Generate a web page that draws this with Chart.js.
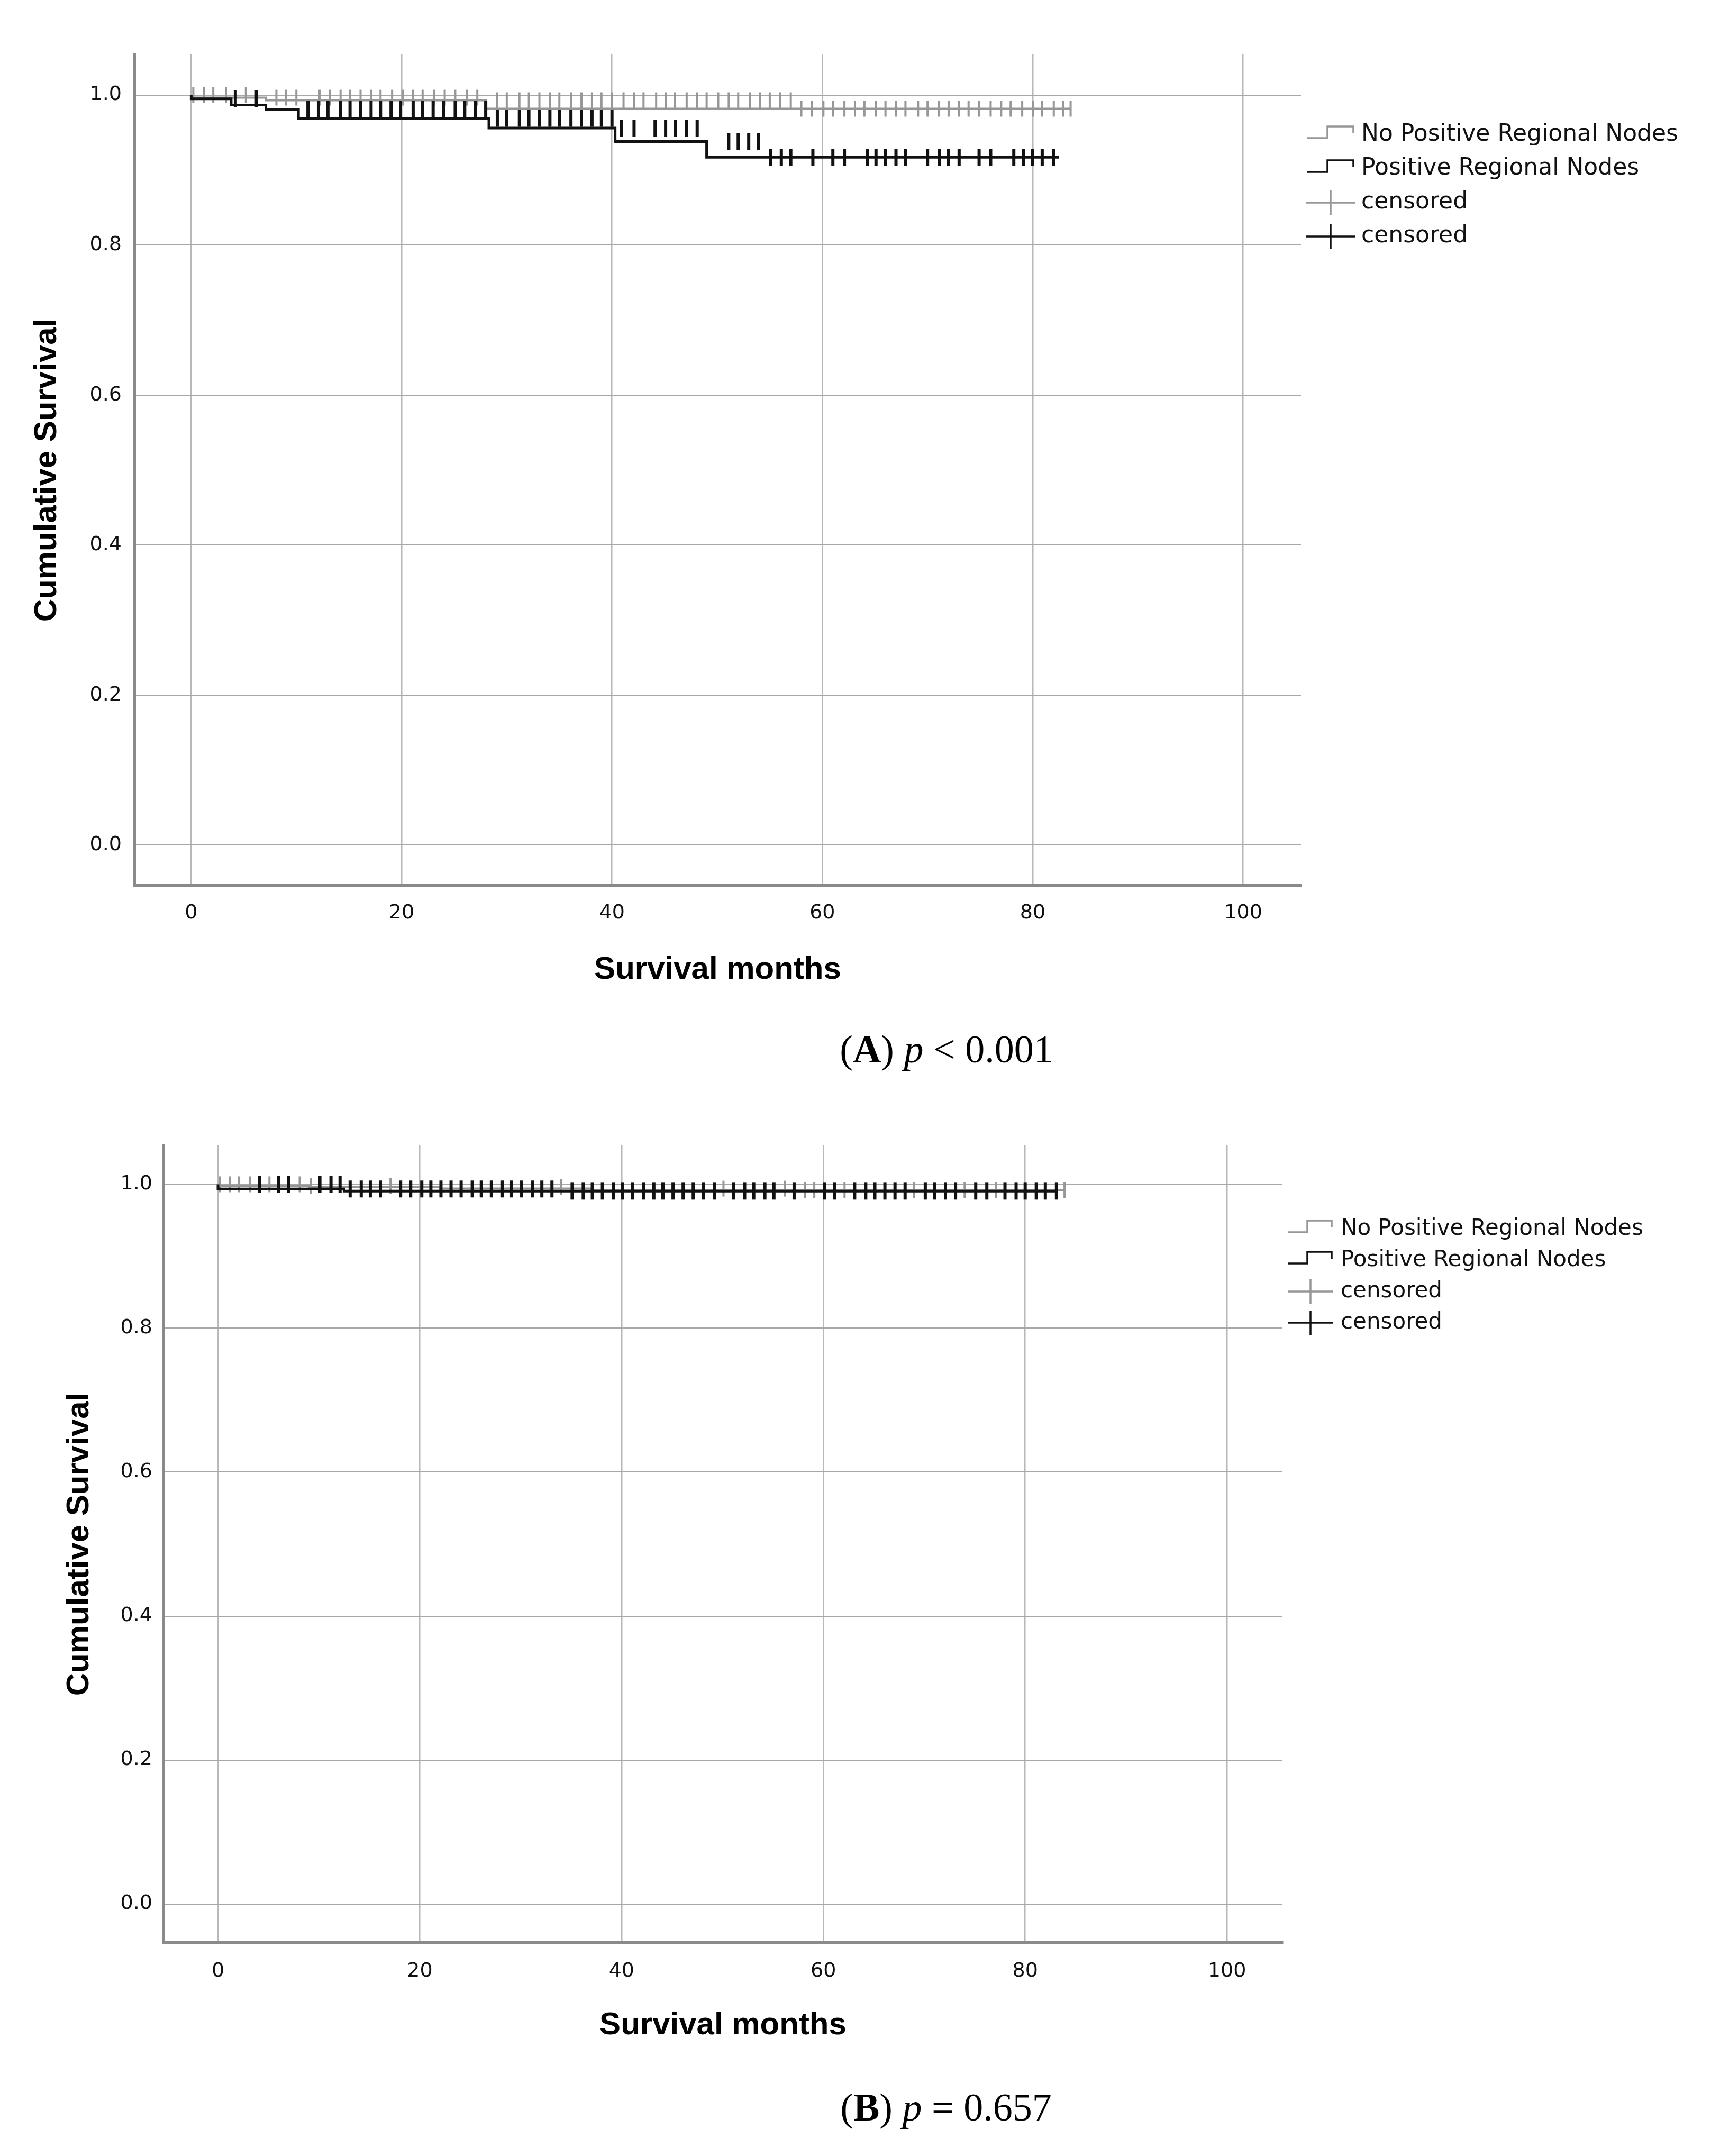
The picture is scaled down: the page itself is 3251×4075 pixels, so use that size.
<!DOCTYPE html>
<html>
<head>
<meta charset="utf-8">
<script src="https://cdn.jsdelivr.net/npm/chart.js@4.4.1/dist/chart.umd.min.js"></script>
<style>
  html, body { margin: 0; padding: 0; background: #fff; }
  body { width: 3251px; height: 4075px; position: relative; overflow: hidden; }
  canvas { position: absolute; left: 0; }
  #chartA { top: 0; }
  #chartB { top: 2060px; }
  .caption {
    position: absolute;
    font-family: 'Liberation Serif', 'Times New Roman', serif;
    font-size: 74px;
    line-height: 74px;
    white-space: nowrap;
    transform: translateX(-50%);
    color: #000;
  }
</style>
</head>
<body>
<canvas id="chartA" width="3251" height="1874"></canvas>
<div class="caption" style="left:1789px; top:1946px;">(<b>A</b>) <i>p</i> &lt; 0.001</div>
<canvas id="chartB" width="3251" height="1812"></canvas>
<div class="caption" style="left:1788px; top:3946px;">(<b>B</b>) <i>p</i> = 0.657</div>

<script>
// Axis ticks (shared by both panels)
const xTickValues = [0, 20, 40, 60, 80, 100];
const yTickValues = [0, 0.2, 0.4, 0.6, 0.8, 1.0];
const yTickLabels = ['0.0', '0.2', '0.4', '0.6', '0.8', '1.0'];
const legendLabels = ['No Positive Regional Nodes', 'Positive Regional Nodes', 'censored', 'censored'];

// Panel A - Kaplan-Meier steps (month of step, survival after step)
const aNoNodesTimes = [0, 7.1, 28.0, 57.2, 83.6];
const aNoNodesSurv  = [1.0, 0.9965, 0.993, 0.9817, 0.9817];
const aNodesTimes   = [0, 3.8, 7.1, 10.2, 28.3, 40.3, 49.0, 55.0, 82.5];
const aNodesSurv    = [1.0, 0.995, 0.9866, 0.9807, 0.9689, 0.9559, 0.938, 0.917, 0.917];

// Panel A - censored times (months)
const aNoNodesCensored = [0.2, 1.2, 2.1, 3.3, 5.2, 8.1, 9.0, 10.0, 12.2, 13.2, 14.2, 15.1, 16.1, 17.1,
  18.0, 19.1, 20.1, 21.1, 22.0, 23.1, 24.1, 25.1, 26.2, 27.2, 29.1, 30.0, 31.2, 32.1, 33.1, 34.1,
  35.0, 36.1, 37.1, 38.1, 39.0, 40.0, 41.1, 42.1, 43.0, 44.2, 45.1, 46.0, 47.1, 48.1, 49.0, 50.1,
  51.1, 52.0, 53.1, 54.1, 55.0, 56.0, 57.0, 58.0, 59.0, 60.1, 61.0, 62.1, 63.1, 64.0, 65.1, 66.0,
  67.0, 67.9, 69.1, 70.0, 71.1, 72.0, 73.0, 73.9, 74.9, 76.0, 77.0, 77.9, 79.0, 80.0, 80.9, 82.0,
  82.9, 83.6];
const aNodesCensored = [4.2, 6.2, 11.1, 12.1, 13.0, 14.2, 15.1, 16.1, 17.1, 18.0, 19.0, 19.9, 21.1,
  22.0, 23.0, 24.0, 25.1, 26.0, 27.0, 28.0, 29.1, 30.0, 31.2, 32.1, 33.1, 34.1, 35.0, 36.1, 37.1,
  38.1, 39.0, 40.0, 40.9, 42.1, 44.1, 45.1, 46.0, 47.1, 48.1, 51.1, 52.0, 53.0, 53.9, 55.1, 56.1,
  57.0, 59.1, 61.0, 62.1, 64.3, 65.1, 66.0, 67.0, 67.9, 70.0, 71.1, 72.0, 73.0, 74.9, 76.0, 78.2,
  79.1, 80.0, 80.9, 82.0];

// Panel B - Kaplan-Meier steps
const bNoNodesTimes = [0, 9.0, 22.0, 37.0, 58.0, 83.9];
const bNoNodesSurv  = [1.0, 0.998, 0.996, 0.994, 0.992, 0.992];
const bNodesTimes   = [0, 12.5, 34.0, 83.2];
const bNodesSurv    = [1.0, 0.9935, 0.9905, 0.9905];

// Panel B - censored times (months)
const bNoNodesCensored = [0.2, 1.2, 2.1, 3.2, 5.1, 8.1, 9.2, 17.1, 34.0, 50.1, 56.2, 58.2, 59.1,
  62.1, 69.0, 74.0, 77.1, 83.9];
const bNodesCensored = [4.1, 6.0, 7.0, 10.1, 11.2, 12.1, 13.1, 14.2, 15.1, 16.1, 18.1, 19.1, 20.2,
  21.1, 22.1, 23.1, 24.1, 25.2, 26.1, 27.1, 28.2, 29.1, 30.1, 31.2, 32.1, 33.1, 35.1, 36.2, 37.1,
  38.1, 39.2, 40.1, 41.1, 42.2, 43.2, 44.1, 45.1, 46.1, 47.1, 48.1, 49.2, 51.1, 52.2, 53.1, 54.2,
  55.1, 57.1, 60.1, 61.1, 63.1, 64.2, 65.1, 66.1, 67.1, 68.1, 70.1, 71.0, 72.1, 73.1, 75.1, 76.2,
  78.0, 79.1, 80.0, 81.1, 82.0, 83.1];

const GREY = '#979797';
const BLACK = '#111111';
const FONT = "'DejaVu Sans', sans-serif";
const PAGE_WIDTH = 3251;
const STYLE_WIDTH = 72;

Chart.defaults.font.family = FONT;

// survival level of a step curve at time t
function survivalAt(times, surv, t) {
  let s = surv[0];
  for (let i = 0; i < times.length; i++) {
    if (times[i] <= t) s = surv[i];
  }
  return s;
}

function toPoints(times, surv) {
  return times.map((t, i) => ({ x: t, y: surv[i] }));
}

// legend glyphs
function makeStepIcon(color, w) {
  const c = document.createElement('canvas');
  c.width = w; c.height = 50;
  const g = c.getContext('2d');
  g.strokeStyle = color;
  g.lineWidth = 3.5;
  g.beginPath();
  g.moveTo(1, 31);
  g.lineTo(Math.round(w * 0.43), 31);
  g.lineTo(Math.round(w * 0.43), 9);
  g.lineTo(w - 3, 9);
  g.lineTo(w - 3, 22);
  g.stroke();
  return c;
}

function makeCensorIcon(color, w) {
  const c = document.createElement('canvas');
  c.width = w; c.height = 50;
  const g = c.getContext('2d');
  g.strokeStyle = color;
  g.lineWidth = 3.5;
  g.beginPath();
  g.moveTo(0, 25); g.lineTo(w, 25);
  g.moveTo(w / 2, 2); g.lineTo(w / 2, 48);
  g.stroke();
  return c;
}

// width the legend box will take, so the plot area ends where wanted
function legendWidth(fontSize, pad) {
  const g = document.createElement('canvas').getContext('2d');
  g.font = fontSize + 'px ' + FONT;
  const textW = Math.max(...legendLabels.map(t => g.measureText(t).width));
  return pad + STYLE_WIDTH + fontSize / 2 + textW + 10;
}

function buildChart(canvasId, p) {
  const icons = [
    makeStepIcon(GREY, p.iconWidth),
    makeStepIcon(BLACK, p.iconWidth),
    makeCensorIcon(GREY, p.iconWidth),
    makeCensorIcon(BLACK, p.iconWidth)
  ];
  const padRight = Math.max(0, PAGE_WIDTH - p.plotRight - legendWidth(p.legendFont, p.legendPad));

  const datasets = [
    {
      label: legendLabels[0],
      data: toPoints(p.noTimes, p.noSurv),
      stepped: 'after',
      borderColor: GREY,
      borderWidth: 4,
      pointRadius: 0,
      fill: false,
      order: 3
    },
    {
      label: legendLabels[1],
      data: toPoints(p.posTimes, p.posSurv),
      stepped: 'after',
      borderColor: BLACK,
      borderWidth: 5,
      pointRadius: 0,
      fill: false,
      order: 1
    },
    {
      label: legendLabels[2],
      data: p.noCens.map(t => ({ x: t, y: survivalAt(p.noTimes, p.noSurv, t) })),
      showLine: false,
      pointStyle: 'line',
      pointRotation: 90,
      pointRadius: 15,
      pointBorderWidth: 4,
      pointBorderColor: GREY,
      order: 2
    },
    {
      label: legendLabels[3],
      data: p.posCens.map(t => ({ x: t, y: survivalAt(p.posTimes, p.posSurv, t) })),
      showLine: false,
      pointStyle: 'line',
      pointRotation: 90,
      pointRadius: 16,
      pointBorderWidth: 6,
      pointBorderColor: BLACK,
      order: 0
    }
  ];

  return new Chart(document.getElementById(canvasId).getContext('2d'), {
    type: 'line',
    data: { datasets: datasets },
    options: {
      responsive: false,
      animation: false,
      layout: { padding: { top: p.padTop, right: padRight, bottom: 0, left: 0 } },
      plugins: {
        tooltip: { enabled: false },
        legend: {
          position: 'right',
          align: 'start',
          fullSize: false,
          title: { display: true, text: ' ', font: { size: 10 }, padding: { top: p.legendOffset, bottom: 0 } },
          labels: {
            font: { size: p.legendFont },
            color: '#111',
            padding: p.legendPad,
            usePointStyle: true,
            pointStyleWidth: STYLE_WIDTH,
            generateLabels: chart => chart.data.datasets.map((ds, i) => ({
              text: ds.label,
              pointStyle: icons[i],
              fillStyle: 'transparent',
              strokeStyle: 'transparent',
              lineWidth: 0,
              hidden: false,
              fontColor: '#111',
              datasetIndex: i
            }))
          }
        }
      },
      scales: {
        x: {
          type: 'linear',
          min: -5.4,
          max: 105.5,
          afterFit: s => { s.height = 200; },
          afterBuildTicks: s => { s.ticks = xTickValues.map(v => ({ value: v })); },
          grid: { color: '#b8b8b8', lineWidth: 2.5, drawTicks: false },
          border: { display: true, color: '#8a8a8a', width: 6 },
          ticks: { font: { size: 38 }, color: '#111', padding: p.xTickPad, maxRotation: 0 },
          title: {
            display: true,
            text: 'Survival months',
            font: { size: 60, weight: 'bold', family: "'Liberation Sans', Arial, sans-serif" },
            color: '#000',
            padding: { top: 0, bottom: p.xTitlePad }
          }
        },
        y: {
          type: 'linear',
          min: -0.054,
          max: 1.054,
          afterFit: s => { s.width = p.yWidth; },
          afterBuildTicks: s => { s.ticks = yTickValues.map(v => ({ value: v })); },
          grid: { color: '#a8a8a8', lineWidth: 2, drawTicks: false },
          border: { display: true, color: '#8a8a8a', width: 6 },
          ticks: {
            font: { size: 38 },
            color: '#111',
            padding: p.yTickPad,
            callback: (v, i) => yTickLabels[i]
          },
          title: {
            display: true,
            text: 'Cumulative Survival',
            font: { size: 60, weight: 'bold', family: "'Liberation Sans', Arial, sans-serif" },
            color: '#000',
            padding: { top: p.yTitlePad, bottom: 0 }
          }
        }
      }
    }
  });
}

buildChart('chartA', {
  noTimes: aNoNodesTimes, noSurv: aNoNodesSurv, posTimes: aNodesTimes, posSurv: aNodesSurv,
  noCens: aNoNodesCensored, posCens: aNodesCensored,
  padTop: 103, plotRight: 2459, yWidth: 254, yTickPad: 24, xTickPad: 29, xTitlePad: 5, yTitlePad: 53,
  legendFont: 44, legendPad: 20, legendOffset: 98, iconWidth: 92
});

buildChart('chartB', {
  noTimes: bNoNodesTimes, noSurv: bNoNodesSurv, posTimes: bNodesTimes, posSurv: bNodesSurv,
  noCens: bNoNodesCensored, posCens: bNodesCensored,
  padTop: 105, plotRight: 2424, yWidth: 309, yTickPad: 21, xTickPad: 31, xTitlePad: 8, yTitlePad: 114,
  legendFont: 42, legendPad: 17, legendOffset: 108, iconWidth: 86
});
</script>
</body>
</html>
